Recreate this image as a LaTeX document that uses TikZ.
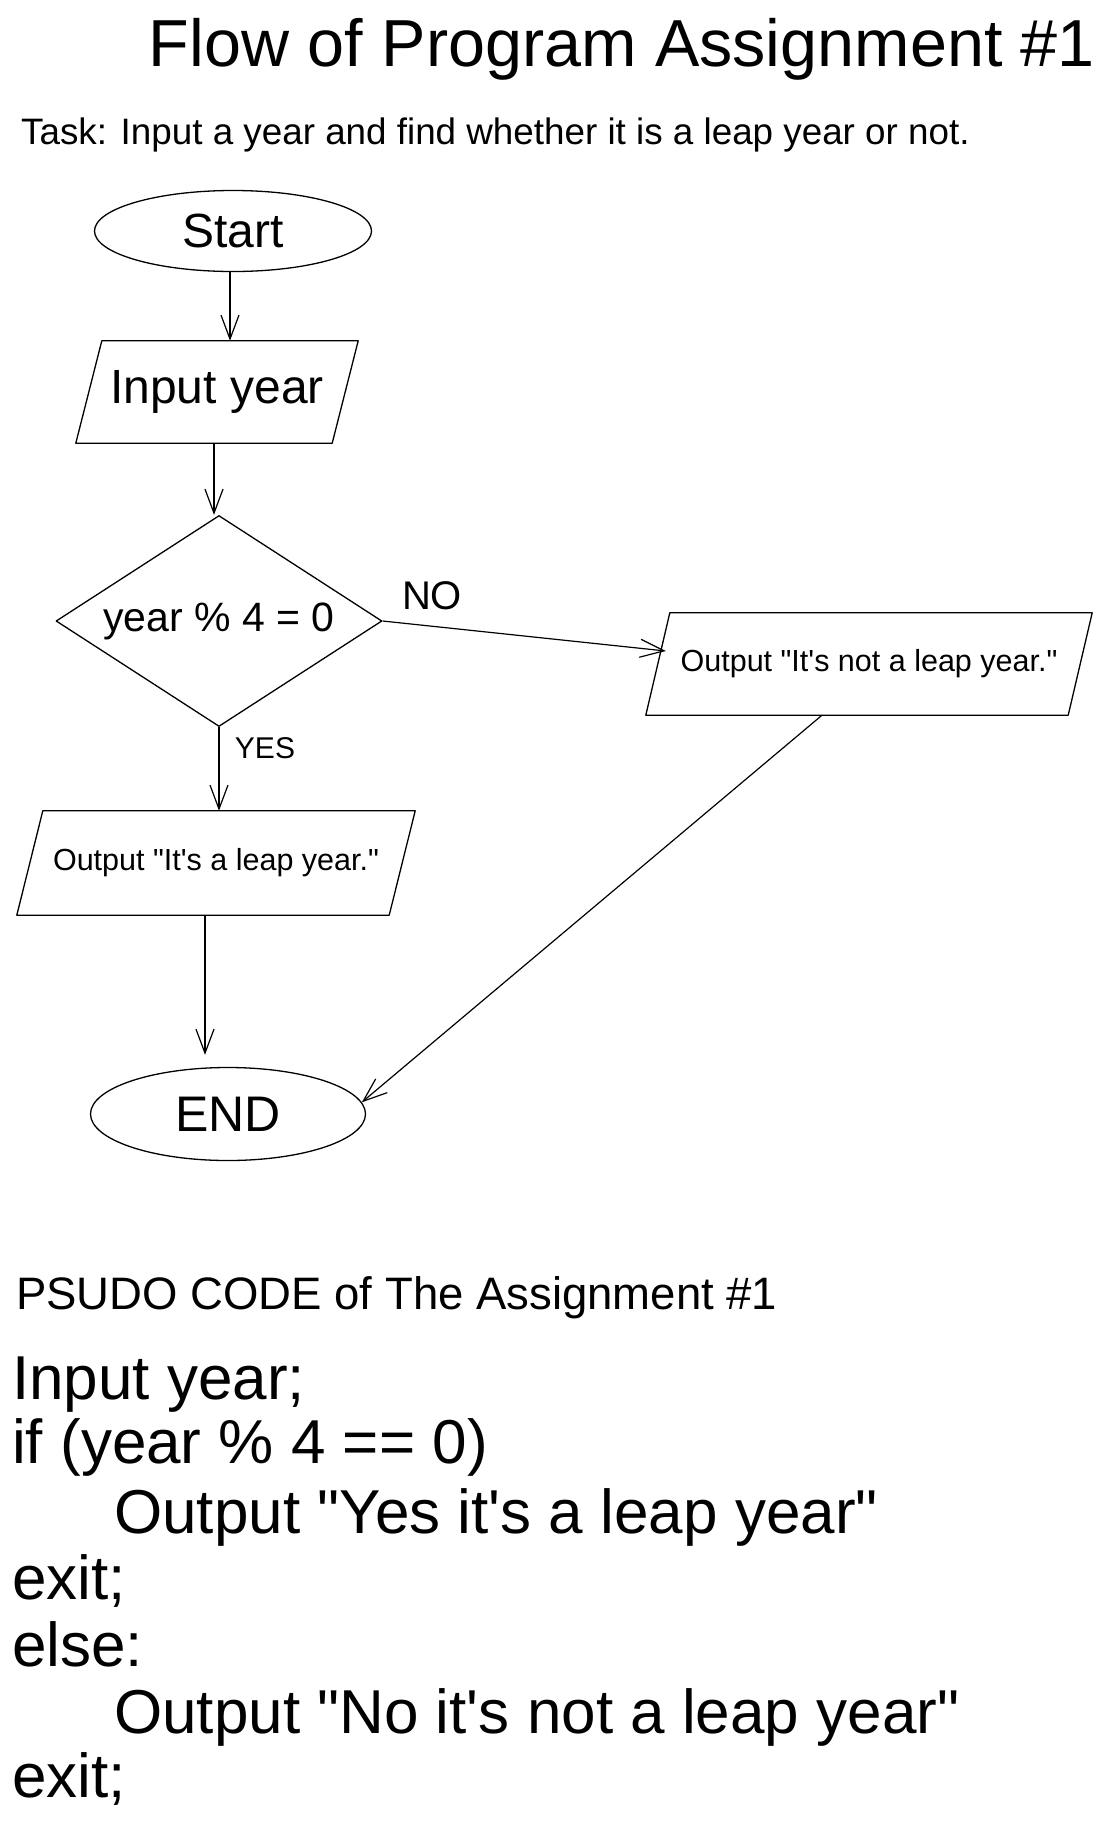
\documentclass[tikz,border=0pt]{standalone}
\usepackage{fontspec}
\setmainfont[Ligatures=TeXOff]{Liberation Sans}
\usetikzlibrary{shapes.geometric,arrows.meta}
\newcommand{\fs}[1]{\fontsize{#1pt}{#1pt}\selectfont}
\newcommand{\paraoutline}[2]{\draw[shapeline] ([xshift=#2]#1.north west) -- ([xshift=#2]#1.north east) -- ([xshift=-#2]#1.south east) -- ([xshift=-#2]#1.south west) -- cycle;}
\tikzset{
  shapeline/.style={draw=black, line width=1.3pt, line join=round},
  term/.style={ellipse, shapeline, inner sep=0pt},
  decision/.style={diamond, shapeline, inner sep=0pt, shape aspect=1.55},
  io/.style={rectangle, draw=none, inner sep=0pt},
  arr/.style={-{Straight Barb[length=24pt,width=18pt]}, line width=1.2pt},
  txt/.style={inner sep=0pt, anchor=base west},
}
\begin{document}
\begin{tikzpicture}[x=1pt,y=-1pt]
\fill[white] (0,0) rectangle (1112,1824);
\useasboundingbox (0,0) rectangle (1112,1824);

\node[inner sep=0pt, anchor=base] (title) at (622,66) {\fs{66.5}Flow of Program Assignment \#1};
\node[txt] (task) at (21,144) {\fs{36.8}Task: Input a year and find whether it is a leap year or not.};

\node[term, minimum width=277pt, minimum height=81pt] (start) at (233,231) {\fs{48}Start};
\node[io, minimum width=256pt, minimum height=102pt] (inp) at (217,392) {\fs{48}Input year};
\paraoutline{inp}{13}
\node[decision, minimum width=326pt, minimum height=211pt] (dia) at (219,621) {\fs{41}year \% 4 = 0};
\node[io, minimum width=422pt, minimum height=102pt] (out2) at (869,664) {\fs{30.5}Output "It's not a leap year."};
\paraoutline{out2}{12}
\node[io, minimum width=372pt, minimum height=104pt] (out1) at (216,863) {\fs{30.5}Output "It's a leap year."};
\paraoutline{out1}{13}
\node[term, minimum width=275pt, minimum height=93pt] (end) at (228,1114) {\fs{50}END};

\node[inner sep=0pt] (no) at (432,596) {\fs{40}NO};
\node[inner sep=0pt] (yes) at (265,748) {\fs{30}YES};

\draw[arr] ([xshift=-3]start.south) -- ([xshift=-3]start.south |- inp.north);
\draw[arr] ([xshift=-3]inp.south) -- ([xshift=-3]inp.south |- dia.north);
\draw[arr] (dia.south) -- (dia.south |- out1.north);
\draw[arr] (dia.east) -- ([xshift=8,yshift=13]out2.west);
\draw[arr, shorten >=12pt] ([xshift=-11]out1.south) -- ([xshift=-11]out1.south |- end.north);
\draw[arr] ([xshift=-47]out2.south) -- (end.5);

\node[txt] (pshead) at (16,1309) {\fs{45.5}PSUDO CODE of The Assignment \#1};
\node[txt] (c1) at (12,1399) {\fs{62}Input year;};
\node[txt] (c2) at (12,1463) {\fs{62}if (year \% 4 == 0)};
\node[txt] (c3) at (114,1533) {\fs{62}Output "Yes it's a leap year"};
\node[txt] (c4) at (12,1599) {\fs{62}exit;};
\node[txt] (c5) at (12,1666) {\fs{62}else:};
\node[txt] (c6) at (114,1733) {\fs{62}Output "No it's not a leap year"};
\node[txt] (c7) at (12,1797) {\fs{62}exit;};
\end{tikzpicture}
\end{document}
